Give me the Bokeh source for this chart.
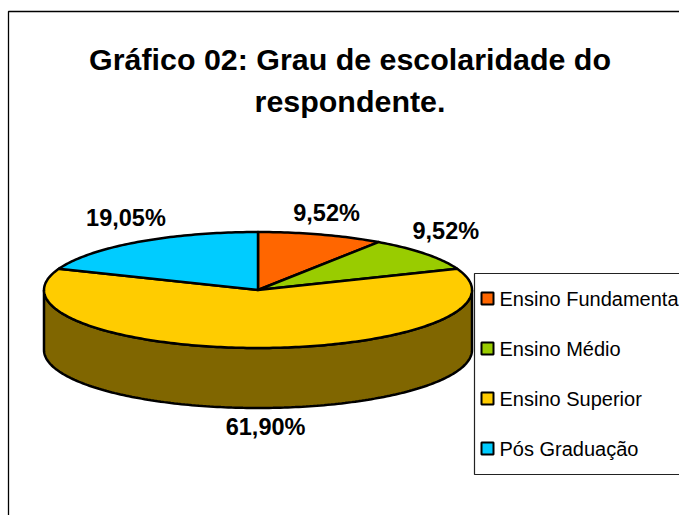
import math
from bokeh.plotting import figure
from bokeh.models import Range1d
from bokeh.core.properties import value
from bokeh.embed import file_html
from bokeh.resources import INLINE

title_lines = ["Gráfico 02: Grau de escolaridade do", "respondente."]
categories = ["Ensino Fundamenta", "Ensino Médio", "Ensino Superior", "Pós Graduação"]
shares = [9.52, 9.52, 61.90, 19.05]
labels = ["9,52%", "9,52%", "61,90%", "19,05%"]
colors = ["#FF6600", "#99CC00", "#FFCC00", "#00CCFF"]
side_color = "#806600"

CX, CY, RX, RY, DEPTH = 257.5, 289.5, 214, 58, 60
OFFS = [(5, -22), (20, -23), (7, 79), (-12, -24)]
FONT = value("Liberation Sans")

p = figure(width=679, height=515, x_range=Range1d(0, 679), y_range=Range1d(515, 0),
           toolbar_location=None, output_backend="svg", min_border=0,
           x_axis_type=None, y_axis_type=None)
p.grid.visible = False
p.outline_line_color = None
p.background_fill_color = "white"

def rim(a):
    return CX + RX * math.sin(a), CY - RY * math.cos(a)

# chart frame
p.line([8, 8, 679], [515, 11, 11], line_color="black", line_width=1.3)

# side wall (front half of the disc)
steps = [math.pi / 2 + math.pi * i / 180 for i in range(181)]
top = [rim(a) for a in steps]
xs = [q[0] for q in top] + [q[0] for q in reversed(top)]
ys = [q[1] + DEPTH for q in top] + [q[1] for q in reversed(top)]
p.patch(xs, ys, fill_color=side_color, line_color="black", line_width=2.5)

# top slices
total = sum(shares)
start = 0.0
for share, color, label, off in zip(shares, colors, labels, OFFS):
    sweep = 2 * math.pi * share / total
    n = max(3, int(math.degrees(sweep)))
    pts = [rim(start + sweep * i / n) for i in range(n + 1)]
    p.patch([CX] + [q[0] for q in pts], [CY] + [q[1] for q in pts],
            fill_color=color, line_color="black", line_width=2.5, line_join="round")
    mx, my = rim(start + sweep / 2)
    p.text([mx + off[0] + 0.5], [my + off[1]], text=[label], text_font=FONT, text_font_style="bold",
           text_font_size="23.5px", text_color="black", text_align="center", text_baseline="middle")
    start += sweep

# title
for line, y in zip(title_lines, [58, 100]):
    p.text([349.5], [y], text=[line], text_font=FONT, text_font_style="bold", text_font_size="30.4px",
           text_color="black", text_align="center", text_baseline="middle")

# legend
p.line([679, 474, 474, 679], [273, 273, 474, 474], line_color="#222222", line_width=1.2)
for i, (cat, color) in enumerate(zip(categories, colors)):
    y = 298 + 50 * i
    p.rect([487], [y], width=12, height=12, fill_color=color, line_color="black", line_width=2)
    p.text([499], [y], text=[cat], text_font=FONT, text_font_size="20px", text_color="black",
           text_align="left", text_baseline="middle")

open("out.html", "w").write(file_html(p, INLINE))
